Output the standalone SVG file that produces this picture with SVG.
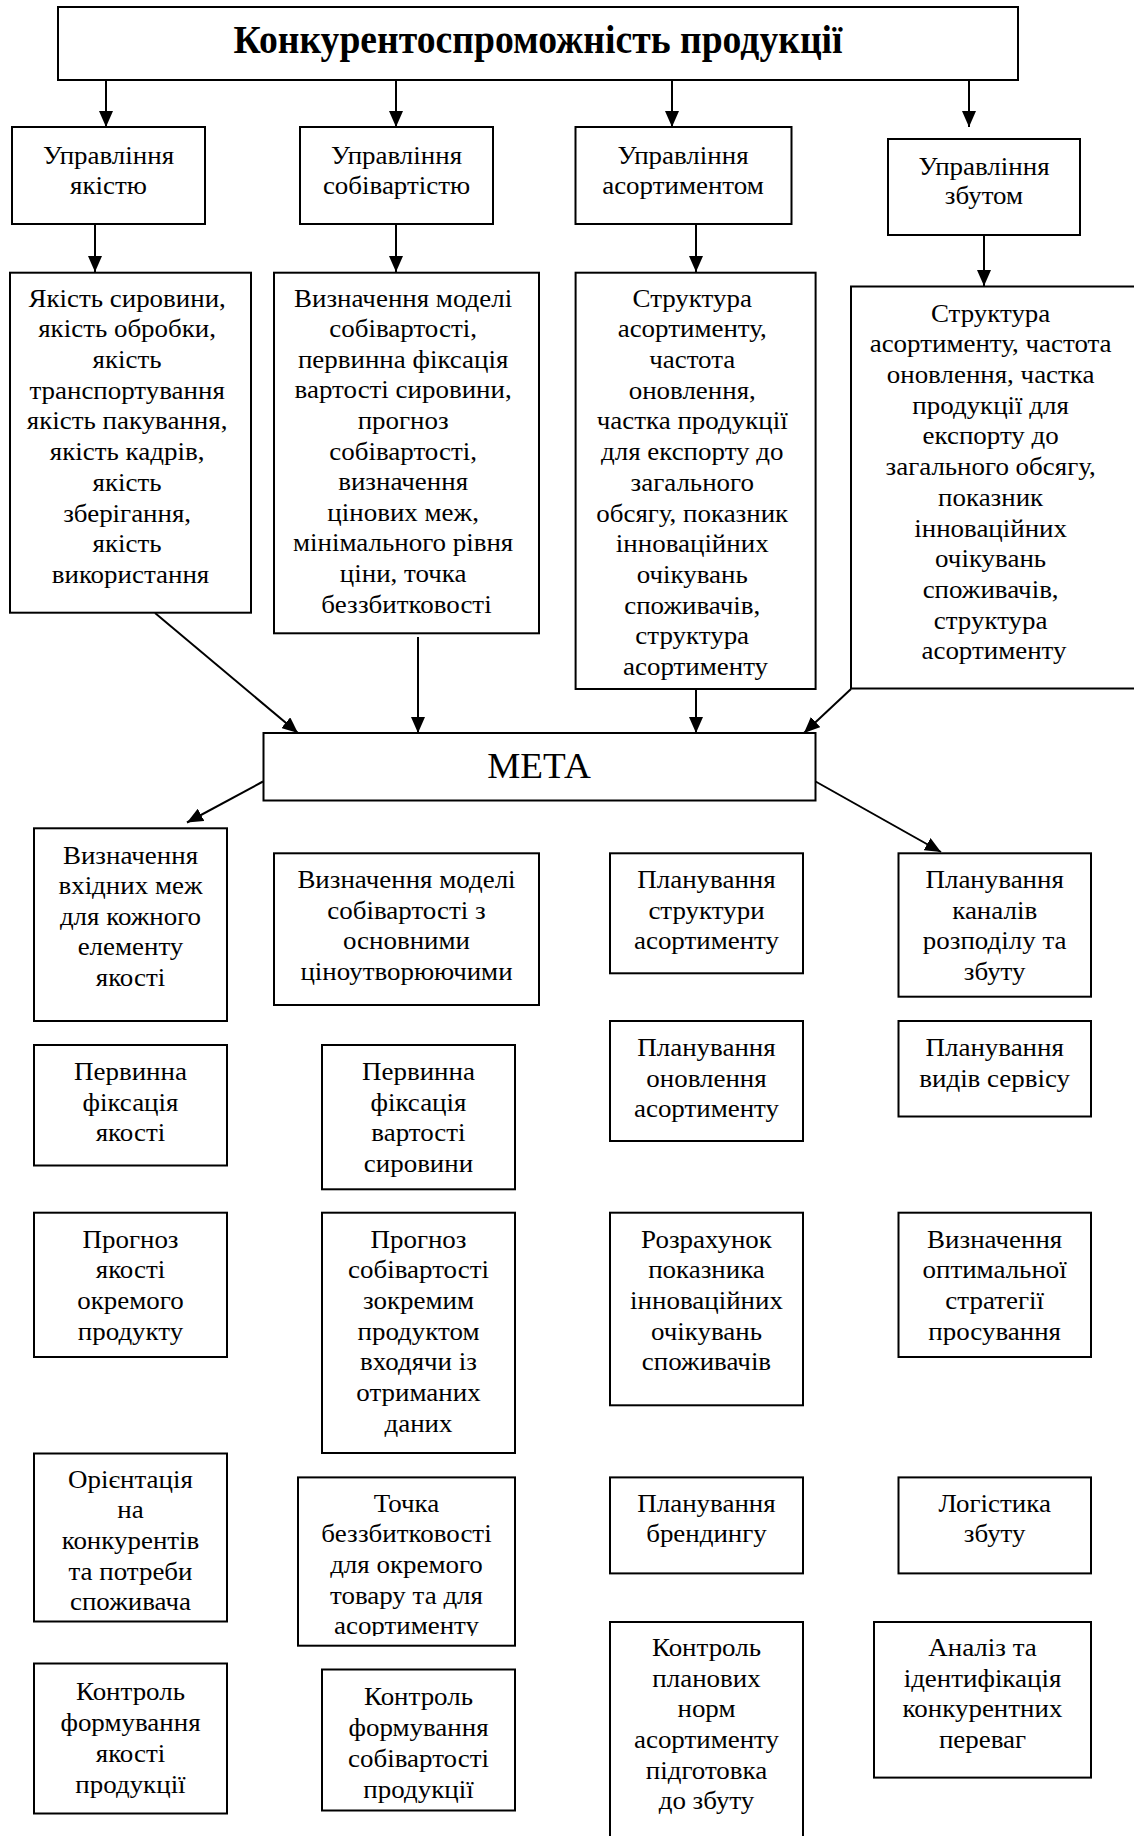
<svg xmlns="http://www.w3.org/2000/svg" width="1134" height="1836" viewBox="0 0 1134 1836">
<defs>
<style>
.box{fill:#fff;stroke:#000;stroke-width:2}
.t{font-family:"Liberation Serif","Times New Roman",serif;font-size:24.5px;text-anchor:middle;fill:#000;transform-box:fill-box;transform-origin:center;transform:scaleX(1.1)}
.title{font-family:"Liberation Serif","Times New Roman",serif;font-size:39px;font-weight:bold;text-anchor:middle;fill:#000}
.meta{font-family:"Liberation Serif","Times New Roman",serif;font-size:35.5px;text-anchor:middle;fill:#000}
.conn{stroke:#000;stroke-width:2;fill:none;marker-end:url(#arr)}
</style>
<marker id="arr" markerUnits="userSpaceOnUse" markerWidth="16" markerHeight="14" refX="16" refY="7" orient="auto">
<path d="M0,0 L16,7 L0,14 z" fill="#000"/>
</marker>
<clipPath id="clipTochka"><rect x="298" y="1477" width="217" height="159"/></clipPath>
</defs>
<rect x="0" y="0" width="1134" height="1836" fill="#fff"/>

<g id="connectors">
<line class="conn" x1="106" y1="80" x2="106" y2="127"/>
<line class="conn" x1="396" y1="80" x2="396" y2="127"/>
<line class="conn" x1="672" y1="80" x2="672" y2="127"/>
<line class="conn" x1="969" y1="80" x2="969" y2="127"/>
<line class="conn" x1="95" y1="224" x2="95" y2="272"/>
<line class="conn" x1="396" y1="224" x2="396" y2="272"/>
<line class="conn" x1="696" y1="224" x2="696" y2="272"/>
<line class="conn" x1="984" y1="235" x2="984" y2="286"/>
<line class="conn" x1="155" y1="613" x2="298" y2="733"/>
<line class="conn" x1="418" y1="637" x2="418" y2="733"/>
<line class="conn" x1="696" y1="689" x2="696" y2="733"/>
<line class="conn" x1="851" y1="689" x2="804" y2="733"/>
<line class="conn" x1="263" y1="781.5" x2="187" y2="822.5"/>
<line class="conn" x1="815.6" y1="781.5" x2="941" y2="852"/>
</g>

<g id="title">
<rect class="box" x="58" y="7" width="960" height="73"/>
<text class="title" x="538" y="53.3" textLength="609" lengthAdjust="spacingAndGlyphs">Конкурентоспроможність продукції</text>
</g>

<g id="upr-yakist">
<rect class="box" x="12" y="127" width="193" height="97"/>
<text class="t"><tspan x="108.5" y="164">Управління</tspan><tspan x="108.5" y="194">якістю</tspan></text>
</g>
<g id="upr-sobivartist">
<rect class="box" x="300" y="127" width="193" height="97"/>
<text class="t"><tspan x="396.5" y="164">Управління</tspan><tspan x="396.5" y="194">собівартістю</tspan></text>
</g>
<g id="upr-asortyment">
<rect class="box" x="575.5" y="127" width="216" height="97"/>
<text class="t"><tspan x="683" y="164">Управління</tspan><tspan x="683" y="194">асортиментом</tspan></text>
</g>
<g id="upr-zbut">
<rect class="box" x="888" y="139" width="192" height="96"/>
<text class="t"><tspan x="984" y="175">Управління</tspan><tspan x="984" y="204">збутом</tspan></text>
</g>

<g id="yakist-details">
<rect class="box" x="10" y="272.7" width="241" height="340"/>
<text class="t">
<tspan x="130.5" y="306.7">Якість сировини,</tspan>
<tspan x="130.5" y="337.4">якість обробки,</tspan>
<tspan x="130.5" y="368.1">якість</tspan>
<tspan x="130.5" y="398.8">транспортування</tspan>
<tspan x="130.5" y="429.5">якість пакування,</tspan>
<tspan x="130.5" y="460.2">якість кадрів,</tspan>
<tspan x="130.5" y="490.9">якість</tspan>
<tspan x="130.5" y="521.6">зберігання,</tspan>
<tspan x="130.5" y="552.3">якість</tspan>
<tspan x="130.5" y="583">використання</tspan>
</text>
</g>
<g id="sobivartist-details">
<rect class="box" x="274" y="272.7" width="265" height="360.6"/>
<text class="t">
<tspan x="406.5" y="306.7">Визначення моделі</tspan>
<tspan x="406.5" y="337.3">собівартості,</tspan>
<tspan x="406.5" y="367.9">первинна фіксація</tspan>
<tspan x="406.5" y="398.5">вартості сировини,</tspan>
<tspan x="406.5" y="429.1">прогноз</tspan>
<tspan x="406.5" y="459.7">собівартості,</tspan>
<tspan x="406.5" y="490.3">визначення</tspan>
<tspan x="406.5" y="520.9">цінових меж,</tspan>
<tspan x="406.5" y="551.5">мінімального рівня</tspan>
<tspan x="406.5" y="582.1">ціни, точка</tspan>
<tspan x="406.5" y="612.7">беззбитковості</tspan>
</text>
</g>
<g id="asortyment-details">
<rect class="box" x="575.6" y="272.7" width="240" height="416.3"/>
<text class="t">
<tspan x="695.6" y="306.7">Структура</tspan>
<tspan x="695.6" y="337.4">асортименту,</tspan>
<tspan x="695.6" y="368.1">частота</tspan>
<tspan x="695.6" y="398.8">оновлення,</tspan>
<tspan x="695.6" y="429.5">частка продукції</tspan>
<tspan x="695.6" y="460.2">для експорту до</tspan>
<tspan x="695.6" y="490.9">загального</tspan>
<tspan x="695.6" y="521.6">обсягу, показник</tspan>
<tspan x="695.6" y="552.3">інноваційних</tspan>
<tspan x="695.6" y="583">очікувань</tspan>
<tspan x="695.6" y="613.7">споживачів,</tspan>
<tspan x="695.6" y="644.4">структура</tspan>
<tspan x="695.6" y="675.1">асортименту</tspan>
</text>
</g>
<g id="zbut-details">
<rect class="box" x="851" y="286.5" width="290" height="402"/>
<text class="t">
<tspan x="994" y="321.7">Структура</tspan>
<tspan x="994" y="352.4">асортименту, частота</tspan>
<tspan x="994" y="383.1">оновлення, частка</tspan>
<tspan x="994" y="413.8">продукції для</tspan>
<tspan x="994" y="444.5">експорту до</tspan>
<tspan x="994" y="475.2">загального обсягу,</tspan>
<tspan x="994" y="505.9">показник</tspan>
<tspan x="994" y="536.6">інноваційних</tspan>
<tspan x="994" y="567.3">очікувань</tspan>
<tspan x="994" y="598">споживачів,</tspan>
<tspan x="994" y="628.7">структура</tspan>
<tspan x="994" y="659.4">асортименту</tspan>
</text>
</g>

<g id="meta">
<rect class="box" x="263.5" y="733" width="552" height="67.5"/>
<text class="meta" x="539" y="777.5" textLength="103.5" lengthAdjust="spacingAndGlyphs">МЕТА</text>
</g>

<g id="c1-1">
<rect class="box" x="34" y="828.3" width="193" height="192.7"/>
<text class="t"><tspan x="130.5" y="864">Визначення</tspan><tspan x="130.5" y="894.5">вхідних меж</tspan><tspan x="130.5" y="925">для кожного</tspan><tspan x="130.5" y="955.5">елементу</tspan><tspan x="130.5" y="986">якості</tspan></text>
</g>
<g id="c2-1">
<rect class="box" x="274" y="853.3" width="265" height="151.7"/>
<text class="t"><tspan x="406.5" y="888.3">Визначення моделі</tspan><tspan x="406.5" y="918.9">собівартості з</tspan><tspan x="406.5" y="949.5">основними</tspan><tspan x="406.5" y="980.1">ціноутворюючими</tspan></text>
</g>
<g id="c3-1">
<rect class="box" x="610" y="853.3" width="193" height="120"/>
<text class="t"><tspan x="706.5" y="888.3">Планування</tspan><tspan x="706.5" y="918.9">структури</tspan><tspan x="706.5" y="949.5">асортименту</tspan></text>
</g>
<g id="c4-1">
<rect class="box" x="898.5" y="853.3" width="192.5" height="143.4"/>
<text class="t"><tspan x="994.7" y="888.3">Планування</tspan><tspan x="994.7" y="918.9">каналів</tspan><tspan x="994.7" y="949.5">розподілу та</tspan><tspan x="994.7" y="980.1">збуту</tspan></text>
</g>

<g id="c1-2">
<rect class="box" x="34" y="1045" width="193" height="120.5"/>
<text class="t"><tspan x="130.5" y="1080">Первинна</tspan><tspan x="130.5" y="1110.7">фіксація</tspan><tspan x="130.5" y="1141.4">якості</tspan></text>
</g>
<g id="c2-2">
<rect class="box" x="322" y="1045" width="193" height="144.3"/>
<text class="t"><tspan x="418.5" y="1080">Первинна</tspan><tspan x="418.5" y="1110.7">фіксація</tspan><tspan x="418.5" y="1141.4">вартості</tspan><tspan x="418.5" y="1172.1">сировини</tspan></text>
</g>
<g id="c3-2">
<rect class="box" x="610" y="1021" width="193" height="120"/>
<text class="t"><tspan x="706.5" y="1056">Планування</tspan><tspan x="706.5" y="1086.7">оновлення</tspan><tspan x="706.5" y="1117.4">асортименту</tspan></text>
</g>
<g id="c4-2">
<rect class="box" x="898.5" y="1021" width="192.5" height="95.5"/>
<text class="t"><tspan x="994.7" y="1056">Планування</tspan><tspan x="994.7" y="1086.7">видів сервісу</tspan></text>
</g>

<g id="c1-3">
<rect class="box" x="34" y="1212.7" width="193" height="144.3"/>
<text class="t"><tspan x="130.5" y="1247.7">Прогноз</tspan><tspan x="130.5" y="1278.4">якості</tspan><tspan x="130.5" y="1309.1">окремого</tspan><tspan x="130.5" y="1339.8">продукту</tspan></text>
</g>
<g id="c2-3">
<rect class="box" x="322" y="1212.7" width="193" height="240.3"/>
<text class="t"><tspan x="418.5" y="1247.7">Прогноз</tspan><tspan x="418.5" y="1278.4">собівартості</tspan><tspan x="418.5" y="1309.1">зокремим</tspan><tspan x="418.5" y="1339.8">продуктом</tspan><tspan x="418.5" y="1370.5">входячи із</tspan><tspan x="418.5" y="1401.2">отриманих</tspan><tspan x="418.5" y="1431.9">даних</tspan></text>
</g>
<g id="c3-3">
<rect class="box" x="610" y="1212.7" width="193" height="192.6"/>
<text class="t"><tspan x="706.5" y="1247.7">Розрахунок</tspan><tspan x="706.5" y="1278.4">показника</tspan><tspan x="706.5" y="1309.1">інноваційних</tspan><tspan x="706.5" y="1339.8">очікувань</tspan><tspan x="706.5" y="1370.5">споживачів</tspan></text>
</g>
<g id="c4-3">
<rect class="box" x="898.5" y="1212.7" width="192.5" height="144.3"/>
<text class="t"><tspan x="994.7" y="1247.7">Визначення</tspan><tspan x="994.7" y="1278.4">оптимальної</tspan><tspan x="994.7" y="1309.1">стратегії</tspan><tspan x="994.7" y="1339.8">просування</tspan></text>
</g>

<g id="c1-4">
<rect class="box" x="34" y="1453.5" width="193" height="168"/>
<text class="t"><tspan x="130.5" y="1487.7">Орієнтація</tspan><tspan x="130.5" y="1518.4">на</tspan><tspan x="130.5" y="1549.1">конкурентів</tspan><tspan x="130.5" y="1579.8">та потреби</tspan><tspan x="130.5" y="1610.5">споживача</tspan></text>
</g>
<g id="c2-4">
<rect class="box" x="298" y="1477.4" width="217" height="168.3"/>
<g clip-path="url(#clipTochka)">
<text class="t"><tspan x="406.5" y="1511.6">Точка</tspan><tspan x="406.5" y="1542.3">беззбитковості</tspan><tspan x="406.5" y="1573">для окремого</tspan><tspan x="406.5" y="1603.7">товару та для</tspan><tspan x="406.5" y="1634.4">асортименту</tspan></text>
</g>
</g>
<g id="c3-4">
<rect class="box" x="610" y="1477.4" width="193" height="96"/>
<text class="t"><tspan x="706.5" y="1511.6">Планування</tspan><tspan x="706.5" y="1542.3">брендингу</tspan></text>
</g>
<g id="c4-4">
<rect class="box" x="898.5" y="1477.4" width="192.5" height="96"/>
<text class="t"><tspan x="994.7" y="1511.6">Логістика</tspan><tspan x="994.7" y="1542.3">збуту</tspan></text>
</g>

<g id="c1-5">
<rect class="box" x="34" y="1663.5" width="193" height="150"/>
<text class="t"><tspan x="130.5" y="1700.5">Контроль</tspan><tspan x="130.5" y="1731.2">формування</tspan><tspan x="130.5" y="1761.9">якості</tspan><tspan x="130.5" y="1792.6">продукції</tspan></text>
</g>
<g id="c2-5">
<rect class="box" x="322" y="1669.5" width="193" height="141"/>
<text class="t"><tspan x="418.5" y="1705.5">Контроль</tspan><tspan x="418.5" y="1736.2">формування</tspan><tspan x="418.5" y="1766.9">собівартості</tspan><tspan x="418.5" y="1797.6">продукції</tspan></text>
</g>
<g id="c3-5">
<rect class="box" x="610" y="1622" width="193" height="240"/>
<text class="t"><tspan x="706.5" y="1656">Контроль</tspan><tspan x="706.5" y="1686.7">планових</tspan><tspan x="706.5" y="1717.4">норм</tspan><tspan x="706.5" y="1748.1">асортименту</tspan><tspan x="706.5" y="1778.8">підготовка</tspan><tspan x="706.5" y="1809.5">до збуту</tspan></text>
</g>
<g id="c4-5">
<rect class="box" x="874" y="1622" width="217" height="155.6"/>
<text class="t"><tspan x="982.5" y="1656">Аналіз та</tspan><tspan x="982.5" y="1686.7">ідентифікація</tspan><tspan x="982.5" y="1717.4">конкурентних</tspan><tspan x="982.5" y="1748.1">переваг</tspan></text>
</g>
</svg>
